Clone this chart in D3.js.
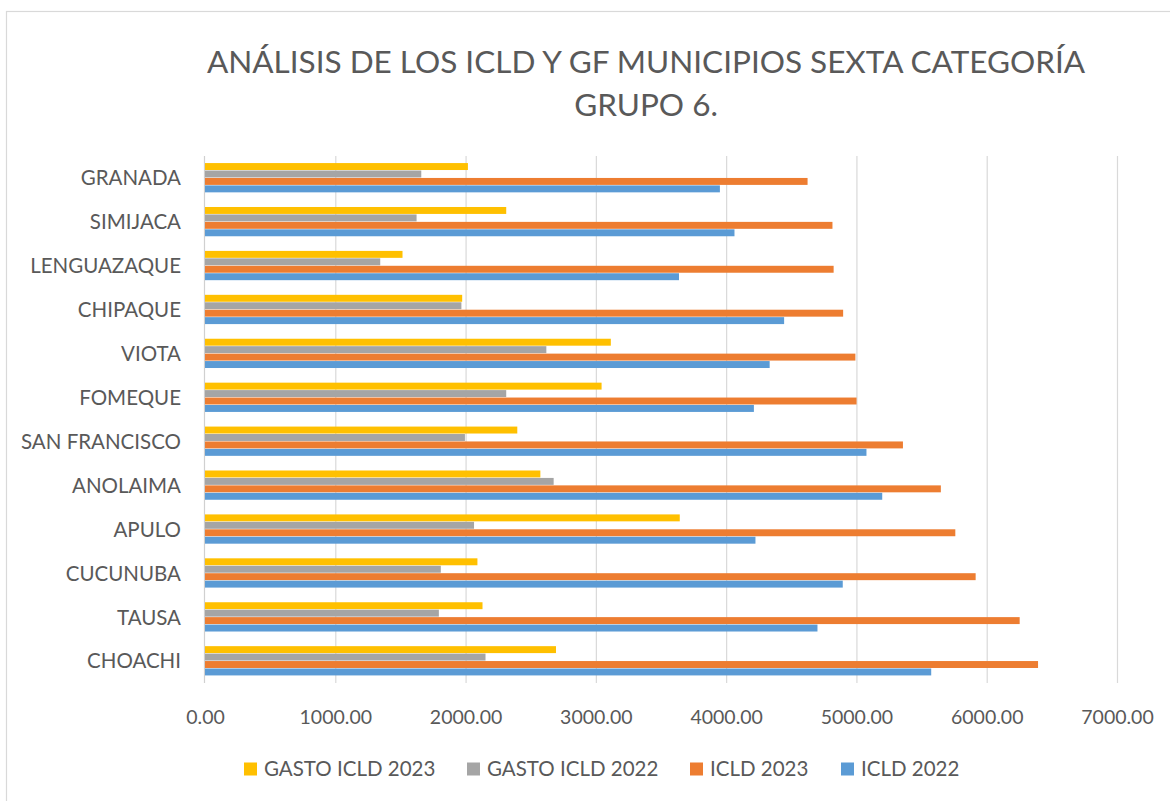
<!DOCTYPE html>
<html>
<head>
<meta charset="utf-8">
<script src="https://cdn.jsdelivr.net/npm/d3@7"></script>
<style>
  html, body { margin: 0; padding: 0; background: #fff; overflow: hidden; }
  svg { display: block; font-family: Lato, "Noto Sans", sans-serif; }
</style>
</head>
<body>
<svg id="chart" width="1170" height="801"></svg>
<script>
// Municipios (de arriba hacia abajo)
const categories = ["GRANADA", "SIMIJACA", "LENGUAZAQUE", "CHIPAQUE", "VIOTA", "FOMEQUE",
  "SAN FRANCISCO", "ANOLAIMA", "APULO", "CUCUNUBA", "TAUSA", "CHOACHI"];

// Series (millones)
const gastoIcld2023 = [2018, 2312, 1516, 1974, 3115, 3044, 2397, 2574, 3644, 2091, 2130, 2694];
const gastoIcld2022 = [1660, 1624, 1345, 1968, 2620, 2312, 1995, 2676, 2065, 1810, 1795, 2153];
const icld2023      = [4625, 4816, 4825, 4898, 4992, 5001, 5357, 5648, 5759, 5915, 6253, 6394];
const icld2022      = [3952, 4064, 3638, 4445, 4334, 4213, 5077, 5198, 4225, 4895, 4701, 5574];

const seriesNames = ["GASTO ICLD 2023", "GASTO ICLD 2022", "ICLD 2023", "ICLD 2022"];
const seriesColors = ["#FFC000", "#A5A5A5", "#ED7D31", "#5B9BD5"];
const tickValues = [0, 1000, 2000, 3000, 4000, 5000, 6000, 7000];

const seriesValues = [gastoIcld2023, gastoIcld2022, icld2023, icld2022];
const rows = categories.map((c, i) => ({
  name: c,
  values: seriesValues.map((s, k) => ({ key: seriesNames[k], value: s[i], color: seriesColors[k] }))
}));

const svg = d3.select("#chart");
const plot = { left: 205, right: 1117, top: 156, bottom: 683 };
const textColor = "#595959";

// Marco del gráfico
svg.append("rect")
  .attr("x", 6.5).attr("y", 11.5)
  .attr("width", 1200).attr("height", 900)
  .attr("fill", "#fff").attr("stroke", "#d9d9d9").attr("stroke-width", 1.2);

// Título
const title = svg.append("text")
  .attr("text-anchor", "middle")
  .attr("fill", textColor)
  .attr("font-size", 31.5);
title.append("tspan").attr("x", 646).attr("y", 73).text("ANÁLISIS DE LOS ICLD Y GF MUNICIPIOS SEXTA CATEGORÍA");
title.append("tspan").attr("x", 646).attr("y", 116).text("GRUPO 6.");

const x = d3.scaleLinear().domain([0, 7000]).range([plot.left, plot.right]);
const y = d3.scaleBand().domain(categories).range([plot.top, plot.bottom]).padding(0);
// Cuatro barras por municipio, con espacio entre grupos
const inner = d3.scaleBand().domain(seriesNames)
  .range([0, y.bandwidth()])
  .paddingInner(0)
  .paddingOuter(0.95);

// Líneas de cuadrícula verticales
svg.append("g")
  .selectAll("line")
  .data(tickValues.slice(1))
  .join("line")
  .attr("x1", d => x(d) + 0.5).attr("x2", d => x(d) + 0.5)
  .attr("y1", plot.top).attr("y2", plot.bottom)
  .attr("stroke", "#d9d9d9").attr("stroke-width", 1.2);

// Eje de categorías
svg.append("line")
  .attr("x1", x(0) - 0.5).attr("x2", x(0) - 0.5)
  .attr("y1", plot.top).attr("y2", plot.bottom)
  .attr("stroke", "#d0d0d0").attr("stroke-width", 1.2);

// Barras
const groups = svg.append("g").selectAll("g")
  .data(rows)
  .join("g")
  .attr("transform", d => `translate(0,${y(d.name)})`);

groups.selectAll("rect")
  .data(d => d.values)
  .join("rect")
  .attr("x", x(0))
  .attr("y", d => inner(d.key))
  .attr("width", d => x(d.value) - x(0))
  .attr("height", inner.bandwidth() - 0.5)
  .attr("fill", d => d.color);

// Etiquetas de categorías
svg.append("g")
  .selectAll("text")
  .data(categories)
  .join("text")
  .attr("x", 181)
  .attr("y", d => y(d) + y.bandwidth() / 2)
  .attr("dy", "0.36em")
  .attr("text-anchor", "end")
  .attr("fill", textColor)
  .attr("font-size", 20.5)
  .text(d => d);

// Eje de valores
const xAxis = d3.axisBottom(x).tickValues(tickValues).tickFormat(d3.format(".2f")).tickSize(0).tickPadding(0);
const ax = svg.append("g").attr("transform", `translate(0,${plot.bottom + 41})`).call(xAxis);
ax.select(".domain").remove();
ax.selectAll("text")
  .attr("fill", textColor)
  .attr("font-size", 19.5)
  .attr("font-family", "Lato, 'Noto Sans', sans-serif")
  .attr("dy", "0");

// Leyenda
const legendX = [244, 467, 690, 841];
const legend = svg.append("g").selectAll("g")
  .data(seriesNames)
  .join("g")
  .attr("transform", (d, i) => `translate(${legendX[i]},769)`);
legend.append("rect")
  .attr("x", 0).attr("y", -6.5).attr("width", 13).attr("height", 13)
  .attr("fill", (d, i) => seriesColors[i]);
legend.append("text")
  .attr("x", 20).attr("y", 0).attr("dy", "0.36em")
  .attr("fill", textColor).attr("font-size", 20.5)
  .text(d => d);
</script>
</body>
</html>
